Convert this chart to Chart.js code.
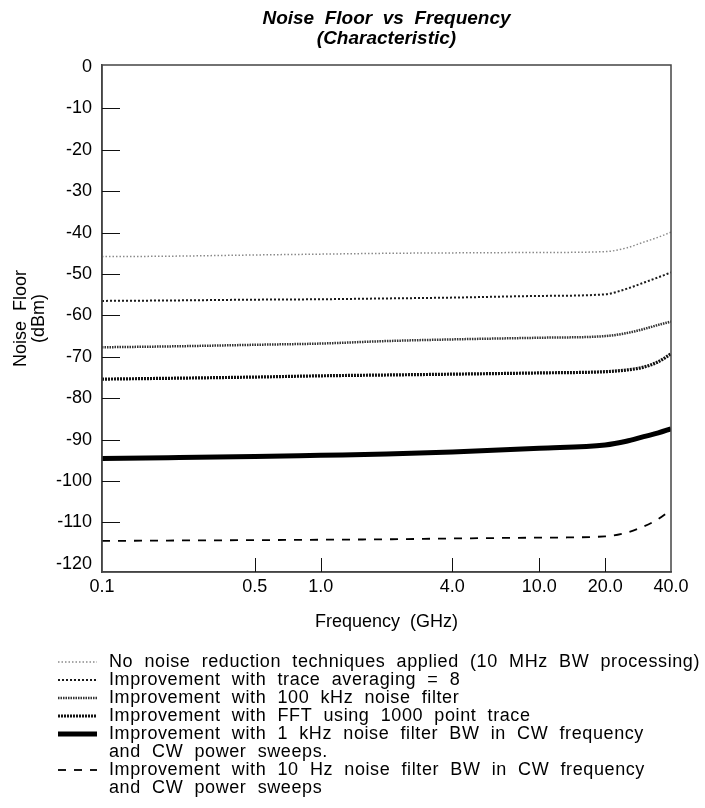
<!DOCTYPE html>
<html>
<head>
<meta charset="utf-8">
<title>Noise Floor vs Frequency</title>
<script src="https://cdn.jsdelivr.net/npm/chart.js@4.4.1/dist/chart.umd.min.js"></script>
<style>
  html, body { margin: 0; padding: 0; background: #fff; }
  #wrap { width: 705px; height: 808px; }
</style>
</head>
<body>
<div id="wrap"><canvas id="noiseChart"></canvas></div>
<script>
const FONT = '"Liberation Sans", Arial, Helvetica, sans-serif';

// frequency points (GHz)
const freqs = [0.1, 0.2, 0.5, 1, 2, 4, 10, 20, 25, 30, 35, 40];

// noise floor (dBm), one array per technique
const noReduction   = [-45.8, -45.7, -45.4, -45.2, -45.0, -44.9, -44.8, -44.6, -43.7, -42.3, -41.1, -39.9];
const traceAvg      = [-56.5, -56.4, -56.2, -56.1, -55.9, -55.7, -55.3, -54.9, -53.6, -52.1, -50.8, -49.6];
const filter100k    = [-67.7, -67.5, -67.1, -66.8, -66.2, -65.8, -65.4, -65.0, -64.3, -63.3, -62.3, -61.5];
const fft1000       = [-75.4, -75.2, -74.9, -74.6, -74.4, -74.2, -73.9, -73.6, -73.2, -72.5, -71.2, -69.3];
const filter1k      = [-94.6, -94.4, -94.1, -93.8, -93.5, -93.0, -92.1, -91.3, -90.4, -89.3, -88.4, -87.4];
const filter10Hz    = [-114.5, -114.4, -114.3, -114.2, -114.1, -113.9, -113.7, -113.4, -112.5, -111.0, -109.2, -107.0];

// axis ticks
const xTickValues = [0.1, 0.5, 1, 4, 10, 20, 40];
const yTickValues = [0, -10, -20, -30, -40, -50, -60, -70, -80, -90, -100, -110, -120];

// legend text (multi-line entries as arrays)
const legendText = [
  ['No  noise  reduction  techniques  applied  (10  MHz  BW  processing)'],
  ['Improvement  with  trace  averaging  =  8'],
  ['Improvement  with  100  kHz  noise  filter'],
  ['Improvement  with  FFT  using  1000  point  trace'],
  ['Improvement  with  1  kHz  noise  filter  BW  in  CW  frequency', 'and  CW  power  sweeps.'],
  ['Improvement  with  10  Hz  noise  filter  BW  in  CW  frequency', 'and  CW  power  sweeps']
];

function series(values, idx, style) {
  return Object.assign({
    label: legendText[idx].join(' '),
    data: freqs.map((f, i) => ({ x: f, y: values[i] })),
    borderColor: '#000',
    borderWidth: 2,
    borderDash: [],
    pointRadius: 0,
    fill: false,
    cubicInterpolationMode: 'monotone'
  }, style);
}

// box around the plot + inward tick marks
const frameTicks = {
  id: 'frameTicks',
  afterDraw(chart) {
    const { ctx, chartArea: a, scales } = chart;
    ctx.save();
    ctx.strokeStyle = '#444';
    ctx.lineWidth = 1.5;
    ctx.strokeRect(a.left, a.top, a.right - a.left, a.bottom - a.top);
    ctx.strokeStyle = '#111';
    ctx.lineWidth = 1;
    ctx.beginPath();
    yTickValues.filter(v => v < 0 && v > -120).forEach(v => {
      const y = Math.round(scales.y.getPixelForValue(v)) + 0.5;
      ctx.moveTo(a.left, y);
      ctx.lineTo(a.left + 18, y);
    });
    xTickValues.filter(v => v > 0.1 && v < 40).forEach(v => {
      const x = Math.round(scales.x.getPixelForValue(v)) + 0.5;
      ctx.moveTo(x, a.bottom);
      ctx.lineTo(x, a.bottom - 14);
    });
    ctx.stroke();
    ctx.restore();
  }
};

// title centred over the plot area
const plotTitle = {
  id: 'plotTitle',
  afterDraw(chart) {
    const { ctx, chartArea: a } = chart;
    const cx = (a.left + a.right) / 2;
    ctx.save();
    ctx.fillStyle = '#000';
    ctx.textAlign = 'center';
    ctx.textBaseline = 'middle';
    ctx.font = 'italic bold 19px ' + FONT;
    ctx.fillText('Noise  Floor  vs  Frequency', cx, 19);
    ctx.fillText('(Characteristic)', cx, 39);
    ctx.restore();
  }
};

// legend under the chart, one swatch per dataset
const lineLegend = {
  id: 'lineLegend',
  afterDraw(chart) {
    const { ctx } = chart;
    let y = 662;
    ctx.save();
    ctx.font = '18px ' + FONT;
    ctx.letterSpacing = '0.6px';
    ctx.textBaseline = 'middle';
    ctx.fillStyle = '#000';
    chart.data.datasets.forEach((ds, i) => {
      ctx.save();
      ctx.strokeStyle = ds.borderColor;
      ctx.lineWidth = ds.borderWidth;
      ctx.setLineDash(ds.borderDash || []);
      ctx.beginPath();
      ctx.moveTo(58, y);
      ctx.lineTo(97, y);
      ctx.stroke();
      ctx.restore();
      legendText[i].forEach(line => {
        ctx.fillText(line, 109, y);
        y += 18;
      });
    });
    ctx.restore();
  }
};

new Chart(document.getElementById('noiseChart'), {
  type: 'line',
  data: {
    datasets: [
      series(noReduction, 0, { borderColor: '#8a8a8a', borderWidth: 1.5, borderDash: [1.5, 2] }),
      series(traceAvg, 1, { borderColor: '#1a1a1a', borderWidth: 2, borderDash: [2, 2] }),
      series(filter100k, 2, { borderColor: '#333', borderWidth: 2.5, borderDash: [1.5, 1] }),
      series(fft1000, 3, { borderColor: '#111', borderWidth: 3.2, borderDash: [2, 1] }),
      series(filter1k, 4, { borderColor: '#000', borderWidth: 5 }),
      series(filter10Hz, 5, { borderColor: '#000', borderWidth: 1.8, borderDash: [8, 8] })
    ]
  },
  options: {
    responsive: true,
    maintainAspectRatio: false,
    animation: false,
    devicePixelRatio: 1,
    layout: { padding: { top: 65, right: 34, bottom: 166, left: 0 } },
    plugins: {
      legend: { display: false },
      title: { display: false },
      tooltip: { enabled: false }
    },
    scales: {
      x: {
        type: 'logarithmic',
        min: 0.1,
        max: 40,
        grid: { display: false, drawTicks: false },
        border: { display: true, color: '#444', width: 1.5 },
        afterBuildTicks: axis => { axis.ticks = xTickValues.map(v => ({ value: v })); },
        afterFit: axis => { axis.height = 70; },
        ticks: {
          autoSkip: false,
          maxRotation: 0,
          padding: 4,
          color: '#000',
          font: { family: FONT, size: 18 },
          callback: v => Number(v).toFixed(1)
        },
        title: {
          display: true,
          text: 'Frequency  (GHz)',
          color: '#000',
          font: { family: FONT, size: 18 },
          padding: { top: 0, bottom: 9 }
        }
      },
      y: {
        type: 'linear',
        min: -122,
        max: 0.5,
        grid: { display: false, drawTicks: false },
        border: { display: true, color: '#444', width: 1.5 },
        afterBuildTicks: axis => { axis.ticks = yTickValues.map(v => ({ value: v })); },
        afterFit: axis => { axis.width = 102; },
        ticks: {
          padding: 10,
          color: '#000',
          font: { family: FONT, size: 18 },
          callback: v => String(v)
        },
        title: {
          display: true,
          text: ['Noise  Floor', '(dBm)'],
          color: '#000',
          font: { family: FONT, size: 18, lineHeight: 1.0 },
          padding: { top: 12, bottom: 0 }
        }
      }
    }
  },
  plugins: [frameTicks, plotTitle, lineLegend]
});
</script>
</body>
</html>
